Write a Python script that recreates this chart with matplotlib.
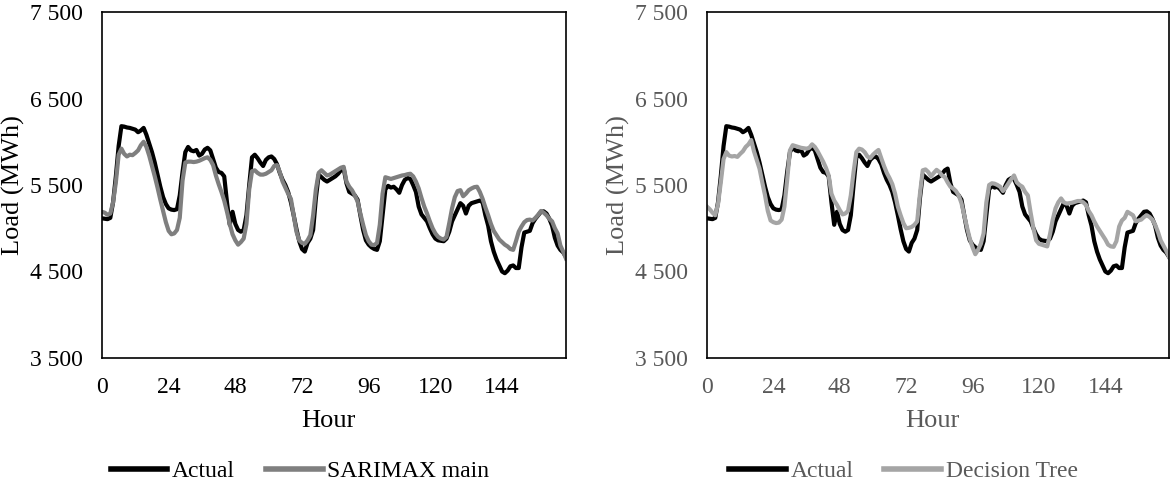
import matplotlib
matplotlib.use("Agg")
from matplotlib import pyplot as plt

plt.rcParams["font.family"] = ["Liberation Serif", "DejaVu Serif"]

hours = list(range(168))

actual = [
    5115, 5110, 5105, 5120, 5300, 5600, 5950, 6180, 6175, 6165, 6160, 6150,
    6140, 6110, 6130, 6160, 6080, 5980, 5880, 5760, 5620, 5480, 5360, 5280,
    5230, 5215, 5210, 5220, 5380, 5650, 5880, 5940, 5900, 5890, 5905, 5840,
    5860, 5910, 5930, 5900, 5800, 5700, 5650, 5640, 5600, 5300, 5040, 5190,
    5050, 4980, 4960, 4980, 5150, 5500, 5820, 5850, 5810, 5760, 5720, 5790,
    5820, 5830, 5800, 5740, 5640, 5560, 5500, 5420, 5300, 5150, 4990, 4850,
    4760, 4730, 4830, 4880, 4980, 5350, 5620, 5590, 5560, 5540, 5560, 5580,
    5600, 5630, 5670, 5690, 5520, 5420, 5400, 5380, 5330, 5150, 4980, 4860,
    4810, 4780, 4760, 4750, 4850, 5150, 5450, 5490, 5470, 5480, 5450, 5410,
    5500, 5560, 5580, 5570, 5500, 5420, 5250, 5160, 5120, 5080, 5000, 4930,
    4880, 4860, 4855, 4850, 4880, 4960, 5080, 5150, 5220, 5290, 5260, 5170,
    5260, 5290, 5300, 5310, 5320, 5300, 5150, 5030, 4850, 4730, 4640, 4570,
    4500, 4480, 4510, 4560, 4570, 4540, 4540, 4780, 4950, 4960, 4970, 5060,
    5110, 5150, 5190, 5195, 5170, 5110, 5030, 4890, 4800, 4750, 4720, 4670,
]

sarimax = [
    5190, 5180, 5155, 5170, 5300, 5530, 5850, 5920, 5860, 5830, 5850, 5845,
    5870, 5900, 5960, 6000, 5940, 5840, 5720, 5600, 5470, 5330, 5200, 5070,
    4970, 4930, 4940, 4980, 5120, 5550, 5760, 5770, 5770, 5765, 5770, 5780,
    5795, 5810, 5820, 5790, 5730, 5610, 5510, 5420, 5320, 5190, 5050, 4930,
    4860, 4810, 4840, 4880, 5050, 5450, 5660, 5670, 5640, 5620, 5620, 5630,
    5650, 5670, 5720, 5730, 5650, 5540, 5470, 5400, 5340, 5150, 4960, 4860,
    4830, 4820, 4860, 4920, 5150, 5450, 5640, 5670, 5640, 5610, 5620, 5640,
    5660, 5680, 5700, 5710, 5540, 5480, 5440, 5380, 5310, 5170, 5040, 4920,
    4850, 4810, 4805, 4830, 5040, 5400, 5590, 5580, 5570, 5580, 5590, 5600,
    5610, 5615, 5625, 5630, 5600, 5540, 5460, 5350, 5250, 5170, 5080, 5000,
    4940, 4900, 4880, 4870, 4900, 5060, 5230, 5360, 5430, 5440, 5370, 5400,
    5440, 5460, 5475, 5480, 5420, 5340, 5240, 5150, 5050, 4970, 4920, 4870,
    4840, 4810, 4790, 4760, 4750, 4850, 4960, 5020, 5070, 5095, 5100, 5090,
    5120, 5155, 5200, 5180, 5150, 5110, 5080, 5000, 4940, 4800, 4730, 4650,
]

decision_tree = [
    5250, 5220, 5180, 5150, 5280, 5530, 5800, 5880, 5840, 5830, 5835, 5825,
    5860, 5890, 5940, 5970, 6020, 5890, 5790, 5690, 5530, 5380, 5200, 5090,
    5070, 5060, 5065, 5100, 5250, 5560, 5900, 5960, 5950, 5940, 5930, 5925,
    5920, 5930, 5970, 5940, 5890, 5830, 5770, 5700, 5610, 5400, 5320, 5270,
    5210, 5160, 5170, 5200, 5380, 5650, 5880, 5920, 5910, 5880, 5830, 5810,
    5850, 5880, 5905, 5810, 5720, 5640, 5580, 5510, 5400, 5250, 5150, 5060,
    5000, 5005, 5015, 5040, 5080, 5400, 5670, 5680, 5650, 5600, 5640, 5675,
    5650, 5610, 5590, 5530, 5480, 5460, 5430, 5380, 5290, 5150, 5010, 4880,
    4780, 4700, 4750, 4820, 4940, 5300, 5500, 5520, 5515, 5500, 5480, 5430,
    5470, 5520, 5570, 5610, 5530, 5500, 5480, 5420, 5380, 5180, 5000, 4860,
    4820, 4810, 4800, 4790, 4930, 5100, 5230, 5300, 5345, 5300, 5285, 5290,
    5295, 5305, 5315, 5315, 5300, 5270, 5200, 5150, 5080, 5020, 4970, 4920,
    4870, 4810, 4790, 4785, 4850, 5020, 5090, 5120, 5190, 5170, 5150, 5080,
    5090, 5100, 5130, 5150, 5130, 5100, 5040, 4960, 4860, 4800, 4740, 4670,
]

x_ticks = [0, 24, 48, 72, 96, 120, 144]
y_ticks = [3500, 4500, 5500, 6500, 7500]
y_labels = ["3 500", "4 500", "5 500", "6 500", "7 500"]

fig = plt.figure(figsize=(11.72, 4.86), dpi=100)
ax1 = fig.add_axes([0.0870, 0.2634, 0.3959, 0.7119])
ax2 = fig.add_axes([0.6032, 0.2634, 0.3942, 0.7119])

panels = [
    (ax1, sarimax, "SARIMAX main", "#7f7f7f", "black", 0.256),
    (ax2, decision_tree, "Decision Tree", "#a5a5a5", "#595959", 0.771),
]

for ax, model, name, col, txt, legx in panels:
    ax.plot(hours, actual, color="black", linewidth=3.0, label="Actual", solid_joinstyle="round")
    ax.plot(hours, model, color=col, linewidth=3.0, label=name, solid_joinstyle="round")
    ax.set_xlim(0, 167)
    ax.set_ylim(3500, 7500)
    ax.set_xticks(x_ticks)
    ax.set_yticks(y_ticks)
    ax.set_yticklabels(y_labels)
    ax.tick_params(length=0, labelsize=17, colors=txt, pad=14)
    for s in ax.spines.values():
        s.set_color("black")
        s.set_linewidth(1.2)
    ax.set_xlabel("Hour", fontsize=19, color=txt)
    ax.set_ylabel("Load (MWh)", fontsize=19, color=txt)
    ax.xaxis.set_label_coords(0.487, -0.150)
    ax.yaxis.set_label_coords(-0.166, 0.5)
    leg = ax.legend(loc="center", bbox_to_anchor=(legx, 0.03), bbox_transform=fig.transFigure,
                    ncol=2, frameon=False, fontsize=17, handlelength=2.4, handletextpad=0.2,
                    columnspacing=1.3, borderaxespad=0)
    for t in leg.get_texts():
        t.set_color(txt)
    for h in leg.get_lines():
        h.set_linewidth(4)

fig.savefig("out.png", dpi=100)
